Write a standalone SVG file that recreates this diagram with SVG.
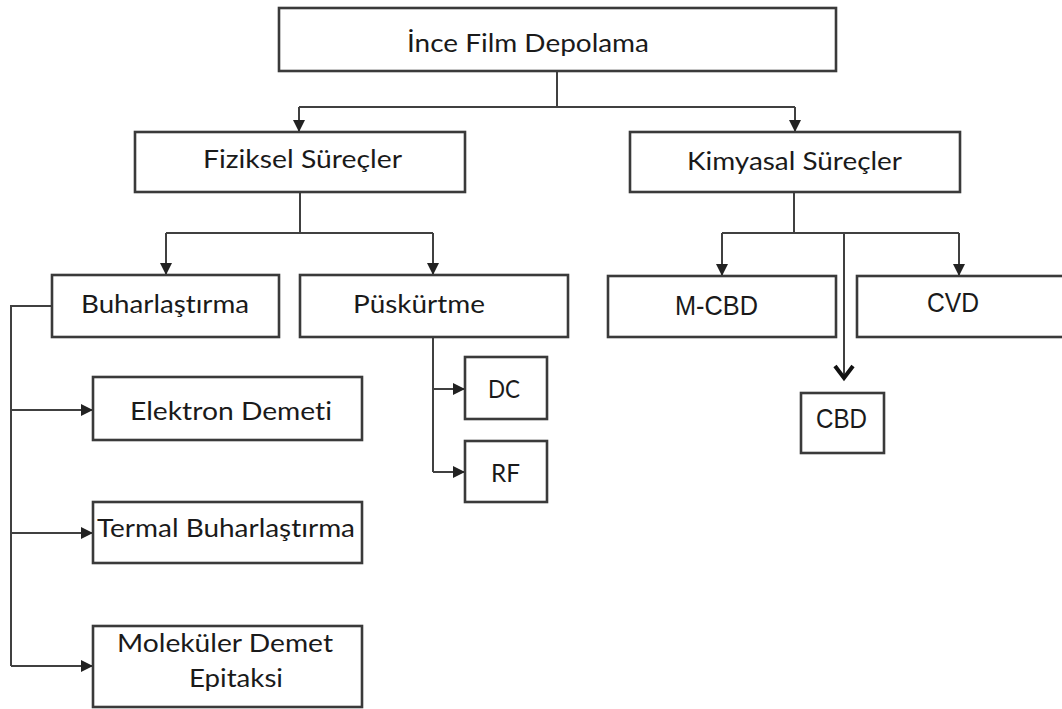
<svg xmlns="http://www.w3.org/2000/svg" width="1062" height="709" viewBox="0 0 1062 709">
<style>
.box{fill:#fff;stroke:#3a3a3a;stroke-width:2.6}
.t{font-family:Lato,"Open Sans",sans-serif;font-size:25px;fill:#1a1a1a;font-variant-ligatures:none}
.a{font-family:"Liberation Sans",Arial,sans-serif;font-size:28px;fill:#1a1a1a}
.c{fill:none;stroke:#404040;stroke-width:2}
</style>
<defs>
<marker id="ah" viewBox="0 0 10 10" refX="10" refY="5" markerWidth="12" markerHeight="12" markerUnits="userSpaceOnUse" orient="auto">
<path d="M0,0 L10,5 L0,10 z" fill="#222"/>
</marker>
</defs>
<rect width="1062" height="709" fill="#fff"/>
<g id="connectors">
<path class="c" d="M557,71 V107"/>
<path class="c" d="M299,107 H795"/>
<path class="c" d="M299,107 V132" marker-end="url(#ah)"/>
<path class="c" d="M795,107 V132" marker-end="url(#ah)"/>
<path class="c" d="M300,192 V233"/>
<path class="c" d="M166,233 H433"/>
<path class="c" d="M166,233 V275" marker-end="url(#ah)"/>
<path class="c" d="M433,233 V275" marker-end="url(#ah)"/>
<path class="c" d="M794,192 V233"/>
<path class="c" d="M722,233 H959"/>
<path class="c" d="M722,233 V276" marker-end="url(#ah)"/>
<path class="c" d="M959,233 V276" marker-end="url(#ah)"/>
<path class="c" d="M844,233 V379"/>
<polyline points="835,366 844,378 853,366" fill="none" stroke="#111" stroke-width="4"/>
<path class="c" d="M52,306 H11 V666"/>
<path class="c" d="M11,410 H93" marker-end="url(#ah)"/>
<path class="c" d="M11,533 H93" marker-end="url(#ah)"/>
<path class="c" d="M11,666 H93" marker-end="url(#ah)"/>
<path class="c" d="M433,337 V472"/>
<path class="c" d="M433,389 H465" marker-end="url(#ah)"/>
<path class="c" d="M433,472 H465" marker-end="url(#ah)"/>
</g>
<g id="n-root"><rect class="box" x="279" y="8" width="557" height="63"/><text class="t" x="407" y="52" textLength="242" lengthAdjust="spacingAndGlyphs">İnce Film Depolama</text></g>
<g id="n-fiziksel"><rect class="box" x="135" y="132" width="330" height="60"/><text class="t" x="203" y="168" textLength="199" lengthAdjust="spacingAndGlyphs">Fiziksel Süreçler</text></g>
<g id="n-kimyasal"><rect class="box" x="630" y="132" width="330" height="60"/><text class="t" x="687" y="170" textLength="215" lengthAdjust="spacingAndGlyphs">Kimyasal Süreçler</text></g>
<g id="n-buhar"><rect class="box" x="52" y="275" width="227" height="62"/><text class="t" x="81" y="313" textLength="168" lengthAdjust="spacingAndGlyphs">Buharlaştırma</text></g>
<g id="n-puskurtme"><rect class="box" x="300" y="275" width="268" height="62"/><text class="t" x="353" y="313" textLength="132" lengthAdjust="spacingAndGlyphs">Püskürtme</text></g>
<g id="n-mcbd"><rect class="box" x="608" y="276" width="228" height="61"/><text class="a" x="675" y="315" textLength="83" lengthAdjust="spacingAndGlyphs">M-CBD</text></g>
<g id="n-cvd"><rect class="box" x="857" y="276" width="210" height="61"/><text class="a" x="927" y="312" textLength="52" lengthAdjust="spacingAndGlyphs">CVD</text></g>
<g id="n-cbd"><rect class="box" x="801" y="393" width="83" height="60"/><text class="a" x="816" y="428" textLength="51" lengthAdjust="spacingAndGlyphs">CBD</text></g>
<g id="n-elektron"><rect class="box" x="93" y="377" width="269" height="63"/><text class="t" x="130" y="420" textLength="202" lengthAdjust="spacingAndGlyphs">Elektron Demeti</text></g>
<g id="n-termal"><rect class="box" x="93" y="502" width="269" height="61"/><text class="t" x="97" y="537" textLength="258" lengthAdjust="spacingAndGlyphs">Termal Buharlaştırma</text></g>
<g id="n-molekuler"><rect class="box" x="93" y="626" width="269" height="81"/><text class="t" x="117" y="652" textLength="216" lengthAdjust="spacingAndGlyphs">Moleküler Demet</text><text class="t" x="189" y="687" textLength="94" lengthAdjust="spacingAndGlyphs">Epitaksi</text></g>
<g id="n-dc"><rect class="box" x="465" y="357" width="82" height="62"/><text class="t" x="488" y="398" textLength="32" lengthAdjust="spacingAndGlyphs">DC</text></g>
<g id="n-rf"><rect class="box" x="465" y="441" width="82" height="61"/><text class="t" x="491" y="482" textLength="29" lengthAdjust="spacingAndGlyphs">RF</text></g>
</svg>
